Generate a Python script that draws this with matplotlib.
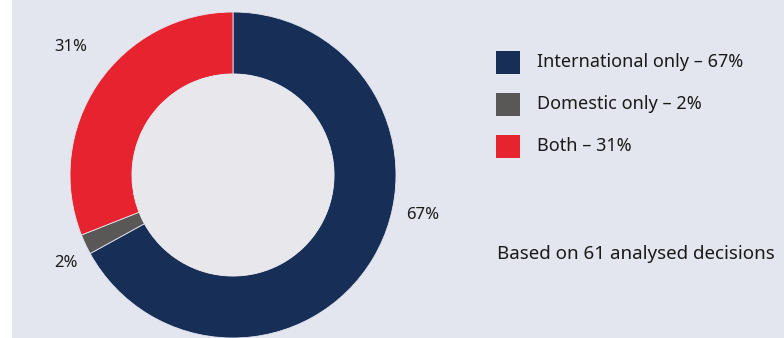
import matplotlib
matplotlib.use('Agg')
import matplotlib.pyplot as plt
from matplotlib.patches import Rectangle, Circle

plt.rcParams['font.family'] = ['Noto Sans', 'DejaVu Sans']

# decision split
categories = ['International only', 'Domestic only', 'Both']
shares = [67, 2, 31]
colors = ['#172e57', '#595856', '#e6232e']
pct_labels = [f'{v}%' for v in shares]
note = 'Based on 61 analysed decisions'

W, H = 784, 338
bg = '#e4e6ef'
hole = '#e8e8ec'

fig = plt.figure(figsize=(W / 100, H / 100), dpi=100, facecolor='white')
fig.patches.append(Rectangle((12 / W, 0), 1 - 12 / W, 1, transform=fig.transFigure,
                             facecolor=bg, edgecolor='none', zorder=-1))

# donut, centre (233, 175) px, outer radius 163 px
cx, cy, r = 233, 175, 163
ax = fig.add_axes([(cx - r) / W, (H - cy - r) / H, 2 * r / W, 2 * r / H])
ax.set_facecolor('none')
wedges, _ = ax.pie(shares, colors=colors, startangle=90, counterclock=False,
                   radius=1, wedgeprops=dict(width=0.38, edgecolor=bg, linewidth=0.6))
ax.add_patch(Circle((0, 0), 0.62, facecolor=hole, edgecolor='none', zorder=3))
ax.set_xlim(-1, 1)
ax.set_ylim(-1, 1)
ax.set_aspect('equal')
ax.axis('off')

# value labels around the ring
label_pos = [(1.166, -0.245), (-1.025, -0.54), (-0.994, 0.785)]
for txt, (lx, ly) in zip(pct_labels, label_pos):
    ax.text(lx, ly, txt, ha='center', va='center', fontsize=12, color='#1a1a1a',
            clip_on=False)

# legend and note in pixel coordinates
lax = fig.add_axes([0, 0, 1, 1])
lax.set_xlim(0, W)
lax.set_ylim(H, 0)
lax.axis('off')
for i, (cat, val, col) in enumerate(zip(categories, shares, colors)):
    y = 62 + 42 * i
    lax.add_patch(Rectangle((496, y - 11.5), 24, 23, facecolor=col, edgecolor='none'))
    lax.text(537, y, f'{cat} \u2013 {val}%', ha='left', va='center',
             fontsize=13, color='#1a1a1a')
lax.text(497, 254, note, ha='left', va='center', fontsize=13.5, color='#1a1a1a')

fig.savefig('out.png', dpi=100, facecolor='white')
